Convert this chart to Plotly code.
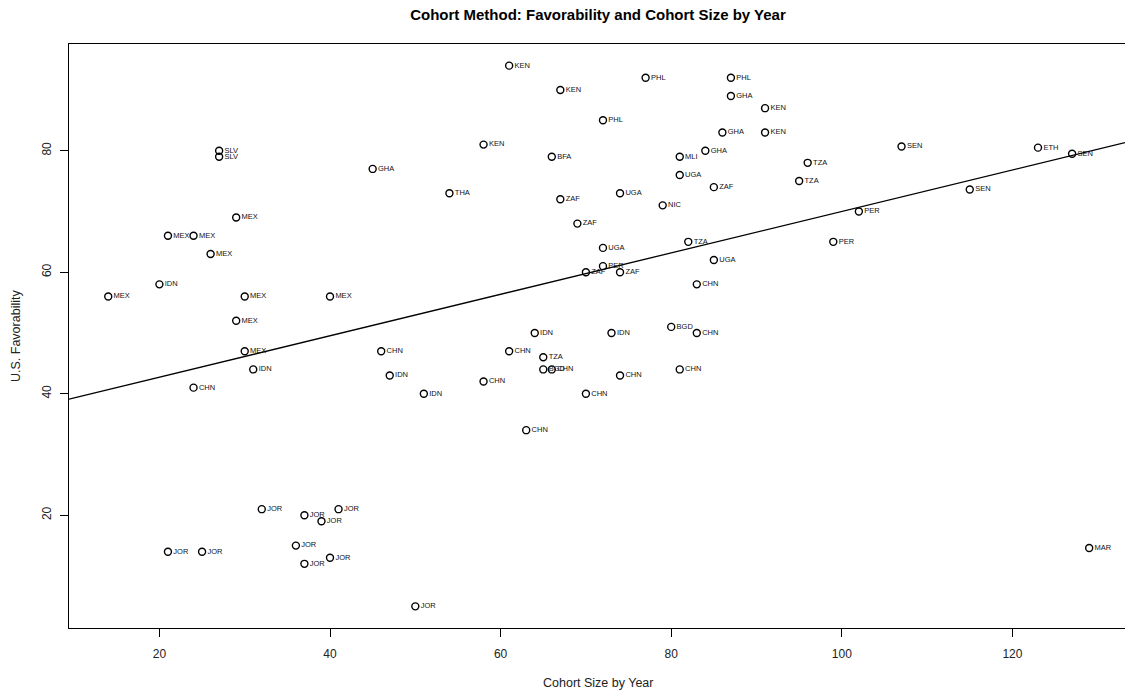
import plotly.graph_objects as go

# Data (cohort size, favorability, country label)
cohort_size = [61, 77, 87, 67, 87, 91, 72, 86, 91, 58, 107, 123, 27, 27, 84, 127, 66, 81, 96, 45,
               81, 95, 85, 115, 54, 74, 67, 79, 102, 29, 69, 21, 24, 82, 99, 72, 26, 85, 72, 70,
               74, 20, 83, 14, 30, 40, 29, 80, 64, 73, 83, 30, 46, 61, 65, 31, 65, 66, 81, 47,
               74, 58, 24, 51, 70, 63, 32, 41, 37, 39, 36, 21, 25, 40, 37, 50, 129]
favorability = [94, 92, 92, 90, 89, 87, 85, 83, 83, 81, 80.7, 80.5, 80, 79, 80, 79.5, 79, 79, 78, 77,
                76, 75, 74, 73.6, 73, 73, 72, 71, 70, 69, 68, 66, 66, 65, 65, 64, 63, 62, 61, 60,
                60, 58, 58, 56, 56, 56, 52, 51, 50, 50, 50, 47, 47, 47, 46, 44, 44, 44, 44, 43,
                43, 42, 41, 40, 40, 34, 21, 21, 20, 19, 15, 14, 14, 13, 12, 5, 14.6]
country = ["KEN", "PHL", "PHL", "KEN", "GHA", "KEN", "PHL", "GHA", "KEN", "KEN", "SEN", "ETH", "SLV", "SLV",
           "GHA", "SEN", "BFA", "MLI", "TZA", "GHA", "UGA", "TZA", "ZAF", "SEN", "THA", "UGA", "ZAF", "NIC",
           "PER", "MEX", "ZAF", "MEX", "MEX", "TZA", "PER", "UGA", "MEX", "UGA", "PER", "ZAF", "ZAF", "IDN",
           "CHN", "MEX", "MEX", "MEX", "MEX", "BGD", "IDN", "IDN", "CHN", "MEX", "CHN", "CHN", "TZA", "IDN",
           "BGD", "CHN", "CHN", "IDN", "CHN", "CHN", "CHN", "IDN", "CHN", "CHN", "JOR", "JOR", "JOR", "JOR",
           "JOR", "JOR", "JOR", "JOR", "JOR", "JOR", "MAR"]

x_ticks = [20, 40, 60, 80, 100, 120]
y_ticks = [20, 40, 60, 80]

# Fitted line as drawn in the reference
line_intercept = 35.9
line_slope = 0.341

x_range = [9.4, 133.2]
y_range = [1.44, 97.56]

W, H = 1125, 694
L, T, B = 69, 44, 694 - 628
PW, PH = W - L, H - T - B

FONT = "Liberation Sans, Arial"

fig = go.Figure()
fig.add_trace(go.Scatter(
    x=cohort_size, y=favorability, text=country,
    mode="markers+text", textposition="middle right",
    marker=dict(symbol="circle-open", size=7, color="black", line=dict(width=1.4, color="black")),
    textfont=dict(family=FONT, size=7.5, color="#111"),
    cliponaxis=False, showlegend=False, hoverinfo="skip",
))

fig.add_shape(type="line", xref="x", yref="y",
              x0=x_range[0], x1=x_range[1],
              y0=line_intercept + line_slope * x_range[0],
              y1=line_intercept + line_slope * x_range[1],
              line=dict(color="black", width=1.3))

axis_common = dict(showgrid=False, zeroline=False, showline=True, linecolor="black", linewidth=1.3,
                   ticks="outside", ticklen=8, tickwidth=1.2, tickcolor="black",
                   tickfont=dict(family=FONT, size=12, color="#222"))

fig.update_xaxes(range=x_range, tickvals=x_ticks, ticktext=[str(v) for v in x_ticks],
                 mirror=True, ticklabelstandoff=6, **axis_common)
fig.update_yaxes(range=y_range, tickvals=y_ticks, ticktext=[str(v) for v in y_ticks],
                 mirror=False, tickangle=-90, ticklabelstandoff=4, **axis_common)

fig.update_layout(
    width=W, height=H,
    margin=dict(l=L, r=0, t=T, b=B),
    paper_bgcolor="white", plot_bgcolor="white",
    title=dict(text="<b>Cohort Method: Favorability and Cohort Size by Year</b>",
               x=598 / W, xref="container", xanchor="center",
               y=1 - 15 / H, yref="container", yanchor="middle",
               font=dict(family=FONT, size=15, color="black")),
    annotations=[
        dict(text="Cohort Size by Year", xref="paper", yref="paper",
             x=(598 - L) / PW, y=(628 - 683) / PH, xanchor="center", yanchor="middle",
             showarrow=False, font=dict(family=FONT, size=12.5, color="#222")),
        dict(text="U.S. Favorability", xref="paper", yref="paper",
             x=(16 - L) / PW, y=0.5, xanchor="center", yanchor="middle", textangle=-90,
             showarrow=False, font=dict(family=FONT, size=12.5, color="#222")),
    ],
)

fig.write_html(
    "out.html",
    config={"displayModeBar": False},
    post_script="document.body.style.margin='0';document.body.style.overflow='hidden';"
                "document.documentElement.style.overflow='hidden';",
)
